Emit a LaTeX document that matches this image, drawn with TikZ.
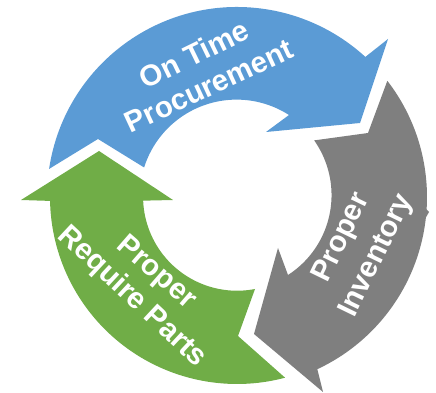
\documentclass[tikz,border=0pt]{standalone}
\usepackage{fontspec}
\setmainfont{Liberation Sans}
\definecolor{arrowblue}{HTML}{5B9BD5}
\definecolor{arrowgray}{HTML}{7F7F7F}
\definecolor{arrowgreen}{HTML}{70AD47}
\tikzset{
  lbl/.style={text=white,inner sep=0pt,font=\fontsize{29.5}{29.5}\selectfont\bfseries},
}
\begin{document}
\begin{tikzpicture}[x=1pt,y=1pt]
\useasboundingbox (0,0) rectangle (436,393);
\coordinate (C) at (237,196);
% blue
\fill[arrowblue] (C) ++(171.5:190) arc[start angle=171.5,end angle=47.5,radius=190]
  -- (388,354) -- (360,270) -- (266,261) -- (289,278)
  arc[start angle=57.3,end angle=162.5,radius=97] -- (98,254) -- cycle;
\fill[white] (136,361) rectangle (142,364);
% gray
\fill[arrowgray] (C) ++(37.7:190) arc[start angle=37.7,end angle=-65,radius=190]
  -- (323,1) -- (254,59) -- (278,145) -- (288,118)
  arc[start angle=-57.2,end angle=35.2,radius=95] -- (368,260) -- cycle;
\fill[arrowgray] (424,186) -- (429,181) -- (425,174) -- cycle;
% green
\fill[arrowgreen] (C) ++(181.2:187) arc[start angle=181.2,end angle=284.9,radius=187]
  -- (238,57) -- (255,104)
  arc[start angle=281,end angle=182.4,radius=94] -- (173,193) -- (99,242) -- (21,193) -- cycle;
% labels
\node[lbl,rotate=26] (ontime) at (194,339) {On Time};
\node[lbl,rotate=25] (procurement) at (209,307) {Procurement};
\node[lbl,rotate=64] (proper2) at (342,155) {Proper};
\node[lbl,rotate=64] (inventory) at (377,137) {Inventory};
\node[lbl,rotate=-41] (proper3) at (156,120) {Proper};
\node[lbl,rotate=-43] (require) at (132,96) {Require Parts};
\end{tikzpicture}
\end{document}
